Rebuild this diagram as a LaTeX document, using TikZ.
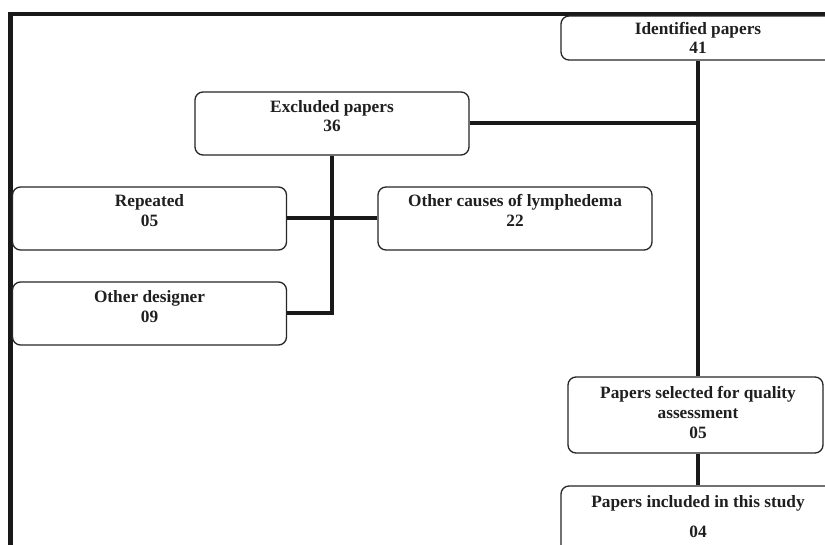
\documentclass[tikz,border=0pt]{standalone}
\usepackage{fontspec}
\setmainfont{Liberation Serif}
\begin{document}
\begin{tikzpicture}[x=1pt,y=-1pt,
  box/.style={draw=black!85, line width=1.3pt, rounded corners=8pt, minimum width=274pt, inner sep=0pt},
  txt/.style={font=\fontsize{17.3}{19.7}\selectfont\bfseries, align=center, anchor=base, inner sep=0pt, text=black!88},
  link/.style={line width=4pt, draw=black!90},
  frame/.style={line width=4.5pt, draw=black!90}]
\useasboundingbox (0,0) rectangle (825,545);
\clip (0,0) rectangle (825,545);
\fill[white] (0,0) rectangle (825,545);
% frame
\draw[frame] (10.5,545) -- (10.5,14) -- (825,14);
% boxes
\node[box, minimum height=44pt] (ident) at (698,38) {};
\node[box, minimum height=63pt] (excl) at (332,123.5) {};
\node[box, minimum height=63pt] (rep) at (149.5,218.5) {};
\node[box, minimum height=63pt] (oc) at (515,218.5) {};
\node[box, minimum height=63pt] (odes) at (149.5,313.5) {};
\node[box, minimum height=76pt, minimum width=255pt] (sel) at (695.5,415) {};
\node[box, minimum height=90pt] (incl) at (698,531) {};
% texts (anchor base = baseline of the last line)
\node[txt] (identt) at (698,54) {Identified papers\\41};
\node[txt] (exclt) at (332,132) {Excluded papers\\36};
\node[txt] (rept) at (149.5,226.7) {Repeated\\05};
\node[txt] (oct) at (515,226.7) {Other causes of lymphedema\\22};
\node[txt] (odest) at (149.5,322.5) {Other designer\\09};
\node[txt] (selt) at (698,438) {Papers selected for quality\\assessment\\05};
\node[txt] (inclt) at (698,537) {Papers included in this study\\[10pt]04};
% connectors
\draw[link] (ident.south) -- (ident.south |- sel.north);
\draw[link] (excl.east) -- (excl.east -| ident.south);
\draw[link] (excl.south) |- (odes.east);
\draw[link] (rep.east) -- (oc.west);
\draw[link] (ident.south |- sel.south) -- (ident.south |- incl.north);
\end{tikzpicture}
\end{document}
